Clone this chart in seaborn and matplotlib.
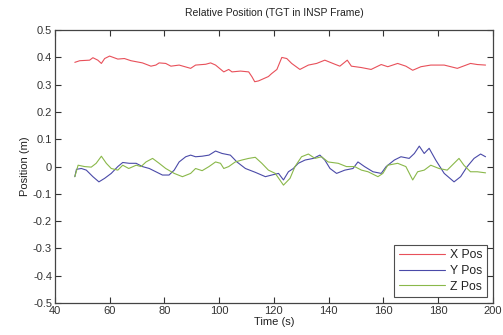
import matplotlib
matplotlib.use("Agg")
import matplotlib.pyplot as plt
import seaborn as sns
import pandas as pd

# X position (m)
x_t = [47.3, 49.1, 52.7, 53.9, 55.7, 57.0, 58.2, 60.0, 63.0, 65.4, 67.8, 72.0, 75.1, 76.9,
       78.1, 80.5, 82.4, 85.4, 89.6, 91.4, 95.1, 96.9, 98.7, 101.7, 103.5, 104.7, 107.8,
       110.8, 112.0, 113.0, 114.4, 118.0, 119.2, 121.1, 122.9, 124.7, 126.5, 129.5, 132.6,
       135.6, 138.6, 142.3, 144.1, 146.8, 148.3, 151.9, 155.5, 159.2, 161.6, 165.2, 168.2,
       170.7, 173.7, 177.3, 182.2, 187.0, 191.8, 194.3, 197.3]
x_pos = [0.382, 0.388, 0.390, 0.399, 0.390, 0.378, 0.396, 0.405, 0.394, 0.396, 0.388, 0.380,
         0.368, 0.372, 0.380, 0.378, 0.368, 0.372, 0.360, 0.372, 0.375, 0.380, 0.372, 0.347,
         0.356, 0.347, 0.350, 0.347, 0.329, 0.311, 0.314, 0.330, 0.341, 0.356, 0.400, 0.396,
         0.378, 0.356, 0.372, 0.378, 0.390, 0.375, 0.368, 0.390, 0.368, 0.363, 0.356, 0.374,
         0.366, 0.378, 0.368, 0.353, 0.366, 0.372, 0.372, 0.360, 0.378, 0.374, 0.372]

# Y position (m)
y_t = [47.3, 47.9, 49.7, 51.5, 53.9, 56.1, 58.2, 60.6, 63.0, 64.8, 67.2, 69.7, 72.0, 74.5,
       76.9, 79.3, 81.7, 83.6, 85.4, 87.8, 89.6, 91.4, 93.8, 96.3, 98.7, 101.1, 104.1, 106.5,
       109.6, 113.2, 116.9, 119.2, 121.7, 123.5, 125.3, 127.1, 128.9, 131.4, 134.4, 136.8,
       138.6, 140.5, 142.9, 145.9, 148.9, 150.7, 153.1, 156.2, 159.2, 161.0, 164.0, 166.4,
       169.4, 171.3, 173.1, 174.9, 176.7, 179.1, 182.2, 185.8, 188.2, 190.6, 193.1, 195.5, 197.3]
y_pos = [-0.037, -0.010, -0.007, -0.013, -0.037, -0.056, -0.043, -0.025, 0.000, 0.015, 0.012,
         0.012, 0.000, -0.007, -0.019, -0.031, -0.031, -0.013, 0.017, 0.036, 0.042, 0.036,
         0.038, 0.042, 0.057, 0.048, 0.042, 0.017, -0.007, -0.021, -0.037, -0.031, -0.025,
         -0.049, -0.019, -0.007, 0.012, 0.024, 0.030, 0.042, 0.024, -0.007, -0.025, -0.013,
         -0.007, 0.017, 0.000, -0.019, -0.025, 0.000, 0.024, 0.036, 0.030, 0.048, 0.075,
         0.048, 0.067, 0.024, -0.025, -0.056, -0.037, 0.000, 0.030, 0.046, 0.036]

# Z position (m)
z_t = [47.3, 48.5, 50.9, 53.3, 55.1, 57.0, 58.8, 60.6, 63.0, 64.8, 67.0, 69.7, 71.5, 73.3,
       75.7, 78.1, 80.5, 83.6, 86.6, 89.6, 91.4, 93.8, 96.3, 98.7, 100.5, 101.7, 103.5, 105.9,
       108.3, 110.8, 113.2, 115.6, 118.0, 120.5, 123.5, 125.9, 127.7, 130.1, 132.6, 135.0,
       137.4, 139.8, 143.5, 146.5, 149.5, 152.0, 154.4, 158.0, 159.8, 161.6, 165.2, 168.2,
       170.7, 172.5, 174.9, 177.3, 180.3, 183.3, 185.8, 187.6, 189.4, 191.8, 194.3, 197.3]
z_pos = [-0.037, 0.005, 0.000, -0.002, 0.012, 0.038, 0.012, -0.007, -0.013, 0.005, -0.007,
         0.005, 0.000, 0.017, 0.030, 0.012, -0.007, -0.025, -0.037, -0.025, -0.007, -0.015,
         0.000, 0.017, 0.012, -0.007, 0.000, 0.017, 0.024, 0.030, 0.034, 0.012, -0.013,
         -0.025, -0.068, -0.043, 0.000, 0.036, 0.046, 0.030, 0.036, 0.017, 0.012, 0.000,
         0.000, -0.013, -0.019, -0.037, -0.025, 0.005, 0.012, 0.000, -0.049, -0.019, -0.013,
         0.005, -0.007, -0.013, 0.012, 0.030, 0.005, -0.019, -0.019, -0.023]

series_names = ["X Pos", "Y Pos", "Z Pos"]
colors = ["#e8505a", "#4a4aa8", "#8ab84a"]

x_ticks = [40, 60, 80, 100, 120, 140, 160, 180, 200]
y_ticks = [-0.5, -0.4, -0.3, -0.2, -0.1, 0, 0.1, 0.2, 0.3, 0.4, 0.5]
y_tick_labels = ["-0.5", "-0.4", "-0.3", "-0.2", "-0.1", "0", "0.1", "0.2", "0.3", "0.4", "0.5"]

sns.set_theme(style="white")
plt.rcParams['font.family'] = ['Liberation Sans', 'DejaVu Sans']

fig = plt.figure(figsize=(5.03, 3.35), dpi=100)
ax = fig.add_axes([0.109, 0.0955, 0.871, 0.8145])

data = [(x_t, x_pos), (y_t, y_pos), (z_t, z_pos)]
for (t, v), name, c in zip(data, series_names, colors):
    df = pd.DataFrame({"t": t, "v": v})
    sns.lineplot(data=df, x="t", y="v", ax=ax, color=c, linewidth=0.8, label=name,
                 estimator=None, sort=False)

ax.set_xlim(40, 200)
ax.set_ylim(-0.5, 0.5)
ax.set_xticks(x_ticks)
ax.set_yticks(y_ticks)
ax.set_yticklabels(y_tick_labels)
ax.tick_params(direction="in", length=4, width=0.8, labelsize=8, colors="#333333",
               top=True, right=True, bottom=True, left=True, pad=2)
for s in ax.spines.values():
    s.set_color("#444444")
    s.set_linewidth(0.9)

ax.set_xlabel("Time (s)", fontsize=8, color="#222222", labelpad=1)
ax.set_ylabel("Position (m)", fontsize=8, color="#222222", labelpad=2)
ax.set_title("Relative Position (TGT in INSP Frame)", fontsize=7.5, color="#222222", pad=10)

leg = ax.legend(loc="lower right", fontsize=8.8, frameon=True, fancybox=False,
                edgecolor="#222222", handlelength=3.8, handletextpad=0.4,
                borderaxespad=0.5, labelspacing=0.3, borderpad=0.35)
leg.get_frame().set_linewidth(0.8)
for txt in leg.get_texts():
    txt.set_color("#222222")

fig.savefig("out.png", dpi=100)
